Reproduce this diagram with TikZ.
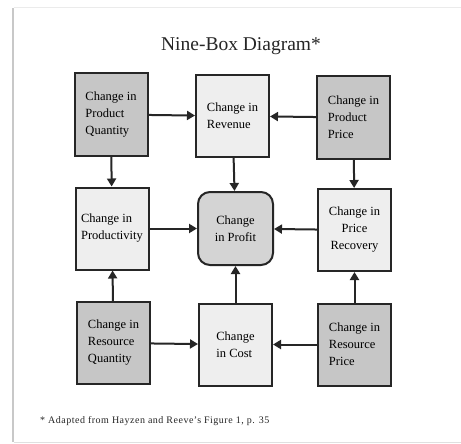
\documentclass[tikz,border=0pt]{standalone}
\usepackage{fontspec}
\setmainfont{Liberation Serif}
\usetikzlibrary{arrows.meta}
\definecolor{darkbox}{RGB}{198,198,198}
\definecolor{lightbox}{RGB}{238,238,238}
\definecolor{midbox}{RGB}{212,212,212}
\definecolor{framegray}{RGB}{200,200,200}
\begin{document}
\begin{tikzpicture}[x=1pt,y=-1pt,
  box/.style={draw=black!85,line width=2pt,minimum width=73pt,minimum height=82pt,
    inner sep=0pt,font=\fontsize{12.5}{17}\selectfont,align=left},
  dbox/.style={box,fill=darkbox},
  lbox/.style={box,fill=lightbox},
  conn/.style={draw=black!85,line width=2pt,-{Triangle[length=8pt,width=9pt]}}]
\useasboundingbox (0,0) rectangle (461,444);
\fill[white] (0,0) rectangle (461,444);
% page frame
\draw[framegray,line width=2pt] (13,8) -- (13,442);
\draw[black!8,line width=1pt] (14,8) -- (461,8);
\draw[black!12,line width=1pt] (14,442) -- (461,442);
% title
\node[text=black!85] (title) at (241,46) {\fontsize{19.5}{22}\selectfont Nine-Box Diagram*};
% boxes
\node[dbox] (tl) at (111,114.5) {Change in\\Product\\Quantity};
\node[lbox] (tm) at (232.5,116) {Change in\\Revenue};
\node[dbox] (tr) at (353.5,117.5) {Change in\\Product\\Price};
\node[lbox] (ml) at (112,228.5) {Change in\\Productivity};
\node[box,fill=midbox,rounded corners=12pt,minimum width=75pt,minimum height=73pt,align=center] (c) at (235.5,228.5) {Change\\in Profit};
\node[lbox,align=center] (mr) at (354.5,230) {Change in\\Price\\Recovery};
\node[dbox] (bl) at (113.5,343) {Change in\\Resource\\Quantity};
\node[lbox] (bm) at (235.5,344.5) {Change\\in Cost};
\node[dbox] (br) at (354.5,344.5) {Change in\\Resource\\Price};
% connectors
\draw[conn] (tl) -- (tm);
\draw[conn] (tr) -- (tm);
\draw[conn] (tl) -- (ml);
\draw[conn] (tm) -- (c);
\draw[conn] (tr) -- (mr);
\draw[conn] (ml) -- (c);
\draw[conn] (mr) -- (c);
\draw[conn] (bl) -- (ml);
\draw[conn] (bm) -- (c);
\draw[conn] (br) -- (mr);
\draw[conn] (bl) -- (bm);
\draw[conn] (br) -- (bm);
% footnote
\node[anchor=west,inner sep=0pt,text=black!85] (foot) at (40,421) {\fontsize{10}{12}\selectfont\addfontfeatures{LetterSpace=5}* Adapted from Hayzen and Reeve's Figure 1, p. 35};
\end{tikzpicture}
\end{document}
